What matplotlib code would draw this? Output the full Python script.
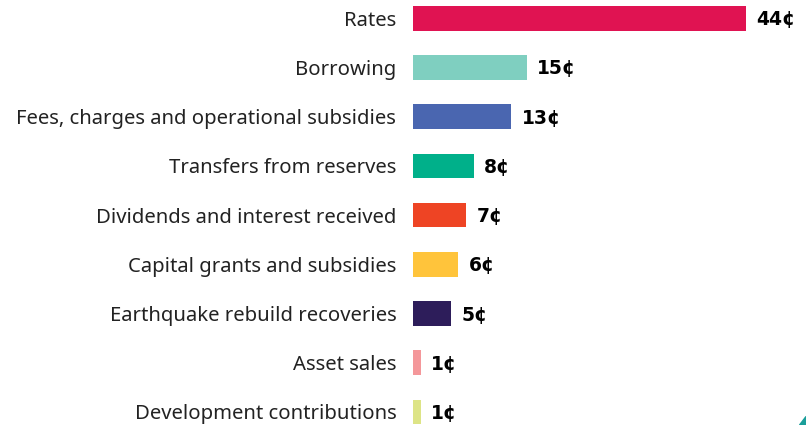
import matplotlib.pyplot as plt
from matplotlib.patches import Polygon

categories = [
    "Rates",
    "Borrowing",
    "Fees, charges and operational subsidies",
    "Transfers from reserves",
    "Dividends and interest received",
    "Capital grants and subsidies",
    "Earthquake rebuild recoveries",
    "Asset sales",
    "Development contributions",
]
cents = [44, 15, 13, 8, 7, 6, 5, 1, 1]
colors = [
    "#e01352", "#7fcfc0", "#4a66b0", "#00b08a", "#ee4424",
    "#ffc43b", "#2d1d5a", "#f4979a", "#dde486",
]

fig = plt.figure(figsize=(8.06, 4.25), dpi=100)
W, H = 806, 425
ax = fig.add_axes([413 / W, -11.6 / H, 378.5 / W, 443 / H])

y = list(range(len(categories)))
ax.barh(y, cents, height=0.5, color=colors)
ax.set_xlim(0, 50)
ax.set_ylim(8.5, -0.5)

ax.set_yticks(y)
ax.set_yticklabels(categories, fontsize=14.6, family="Noto Sans", color="#222222")
ax.tick_params(axis="y", length=0, pad=12)
ax.set_xticks([])
for s in ax.spines.values():
    s.set_visible(False)

for yi, v in zip(y, cents):
    ax.text(v + 1.4, yi + 0.03, f"{v}\u00a2", va="center", ha="left",
            fontsize=13.5, fontweight="heavy", family="DejaVu Sans", color="black")

# small teal corner mark
fig.patches.append(Polygon([[1.0, 0.0], [1.0, 0.02], [0.992, 0.0]], closed=True,
                           transform=fig.transFigure, color="#1a9e9a"))

fig.savefig("out.png", dpi=100)
